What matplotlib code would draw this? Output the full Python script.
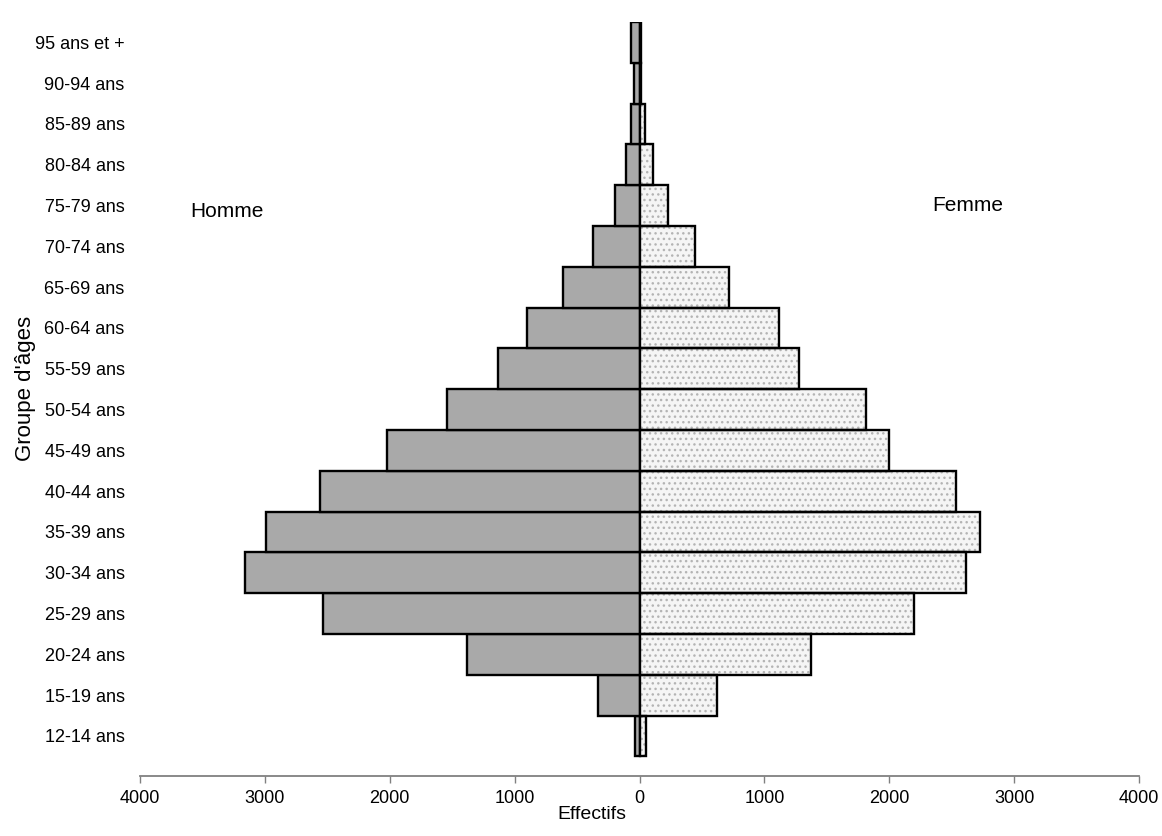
import matplotlib.pyplot as plt
from matplotlib.ticker import FixedLocator, FuncFormatter

# groupes d'âges, du plus jeune au plus âgé
groupes = ['12-14 ans', '15-19 ans', '20-24 ans', '25-29 ans', '30-34 ans',
           '35-39 ans', '40-44 ans', '45-49 ans', '50-54 ans', '55-59 ans',
           '60-64 ans', '65-69 ans', '70-74 ans', '75-79 ans', '80-84 ans',
           '85-89 ans', '90-94 ans', '95 ans et +']
hommes = [35, 335, 1380, 2535, 3160, 2990, 2560, 2025, 1540, 1130,
          900, 614, 375, 200, 105, 65, 45, 70]
femmes = [55, 620, 1370, 2200, 2615, 2725, 2535, 2000, 1810, 1275,
          1115, 715, 445, 225, 105, 40, 10, 15]
graduations = [-4000, -3000, -2000, -1000, 0, 1000, 2000, 3000, 4000]

plt.rcParams['font.family'] = ['Liberation Sans', 'DejaVu Sans']

fig = plt.figure(figsize=(11.62, 8.36), dpi=100)
ax = fig.add_axes([0.1205, 0.0718, 0.8597, 0.902])

y = list(range(len(groupes)))
neg = [-v for v in hommes]

# hommes : gris plein
ax.barh(y, neg, height=1.0, color='#a9a9a9', edgecolor='black', linewidth=1.7, zorder=2)
# femmes : fond clair pointillé
ax.barh(y, femmes, height=1.0, color='#f5f5f5', edgecolor='#b4b4b4', hatch='...',
        linewidth=0, zorder=2)
ax.barh(y, femmes, height=1.0, fill=False, edgecolor='black', linewidth=1.7, zorder=3)

ax.set_xlim(-4000, 4000)
ax.set_ylim(-0.98, 17.5)

ax.xaxis.set_major_locator(FixedLocator(graduations))
ax.xaxis.set_major_formatter(FuncFormatter(lambda v, p: f'{abs(int(v))}'))
ax.set_yticks(y)
ax.set_yticklabels(groupes)

for s in ['top', 'right', 'left']:
    ax.spines[s].set_visible(False)
ax.spines['bottom'].set_color('#808080')
ax.spines['bottom'].set_linewidth(1.3)

ax.tick_params(axis='x', length=5, color='#808080', width=1, labelsize=13, pad=5)
ax.tick_params(axis='y', length=0, labelsize=13, pad=11)

fig.text(0.022, 0.535, "Groupe d'âges", fontsize=16, rotation=90,
         ha='center', va='center')
fig.text(0.509, 0.026, 'Effectifs', fontsize=14, ha='center', va='center')

ax.text(-3300, 12.85, 'Homme', fontsize=15, ha='center', va='center')
ax.text(2630, 13.0, 'Femme', fontsize=15, ha='center', va='center')

fig.savefig('out.png', dpi=100)
